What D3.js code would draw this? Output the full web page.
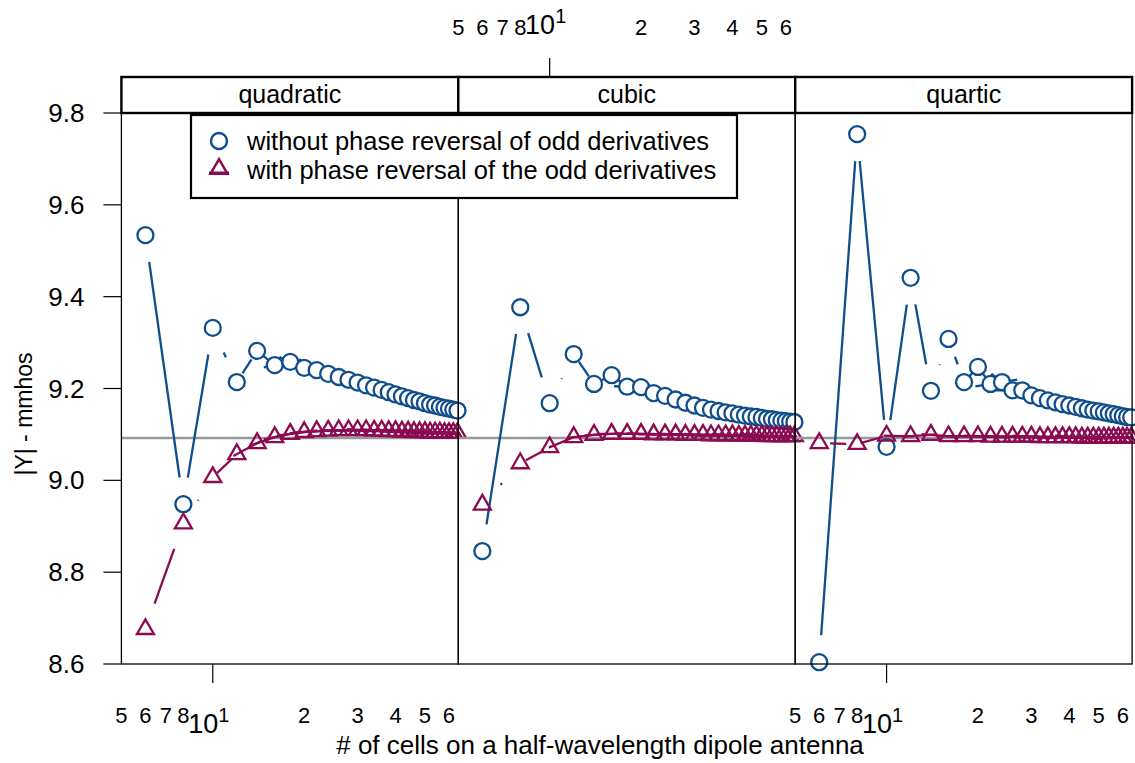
<!DOCTYPE html>
<html>
<head>
<meta charset="utf-8">
<script src="https://cdn.jsdelivr.net/npm/d3@7/dist/d3.min.js"></script>
<style>
  body { margin: 0; background: #fff; }
  text { font-family: "Liberation Sans", Arial, Helvetica, sans-serif; fill: #000; }
</style>
</head>
<body>
<div id="chart"></div>
<script>
// number of cells (x), shared by every panel
const cells = [6, 8, 10, 12, 14, 16, 18, 20, 22, 24, 26, 28, 30, 32, 34,
               36, 38, 40, 42, 44, 46, 48, 50, 52, 54, 56, 58, 60, 62, 64];

const panelNames = ['quadratic', 'cubic', 'quartic'];
const seriesNames = ['without phase reversal of odd derivatives',
                     'with phase reversal of the odd derivatives'];

// |Y| without phase reversal
const quadraticWithout = [9.534, 8.948, 9.332, 9.214, 9.282, 9.251, 9.258, 9.245, 9.240, 9.232,
                          9.225, 9.219, 9.213, 9.207, 9.202, 9.197, 9.192, 9.187, 9.183, 9.179,
                          9.175, 9.172, 9.168, 9.165, 9.163, 9.160, 9.158, 9.156, 9.154, 9.152];
const cubicWithout     = [8.846, 9.377, 9.168, 9.275, 9.210, 9.229, 9.204, 9.203, 9.190, 9.184,
                          9.176, 9.169, 9.163, 9.158, 9.154, 9.151, 9.148, 9.146, 9.143, 9.141,
                          9.139, 9.138, 9.136, 9.134, 9.133, 9.131, 9.130, 9.129, 9.128, 9.127];
const quarticWithout   = [8.604, 9.754, 9.073, 9.441, 9.195, 9.308, 9.214, 9.247, 9.210, 9.214,
                          9.196, 9.196, 9.185, 9.179, 9.174, 9.170, 9.166, 9.163, 9.160, 9.157,
                          9.154, 9.152, 9.150, 9.148, 9.146, 9.144, 9.142, 9.140, 9.138, 9.137];

// |Y| with phase reversal
const quadraticWith = [8.676, 8.906, 9.007, 9.057, 9.081, 9.094, 9.101, 9.105, 9.107, 9.108,
                       9.109, 9.109, 9.109, 9.109, 9.108, 9.108, 9.107, 9.107, 9.106, 9.106,
                       9.105, 9.105, 9.105, 9.104, 9.104, 9.104, 9.103, 9.103, 9.103, 9.103];
const cubicWith     = [8.947, 9.037, 9.072, 9.094, 9.099, 9.101, 9.101, 9.101, 9.100, 9.100,
                       9.100, 9.099, 9.099, 9.099, 9.098, 9.098, 9.098, 9.098, 9.097, 9.097,
                       9.097, 9.097, 9.097, 9.096, 9.096, 9.096, 9.096, 9.096, 9.096, 9.096];
const quarticWith   = [9.081, 9.079, 9.097, 9.096, 9.099, 9.096, 9.096, 9.096, 9.095, 9.095,
                       9.095, 9.095, 9.095, 9.094, 9.094, 9.094, 9.094, 9.094, 9.094, 9.093,
                       9.093, 9.093, 9.093, 9.093, 9.093, 9.093, 9.093, 9.093, 9.093, 9.093];

const refLevel = 9.092;
const yTicks = [8.6, 8.8, 9.0, 9.2, 9.4, 9.6, 9.8];
const xMinorTicks = [5, 6, 7, 8, 20, 30, 40, 50, 60];
const xMajorTick = 10;

const panelSeries = [
  [quadraticWithout, quadraticWith],
  [cubicWithout, cubicWith],
  [quarticWithout, quarticWith]
];

const colors = ['#104E8B', '#8B0A50'];

const W = 1135, H = 763;
const panelLeft = 121.4, panelW = 336.9;
const panelTop = 113, panelBottom = 664, stripH = 36;
const gap = 27;

const svg = d3.select('#chart').append('svg')
    .attr('width', W).attr('height', H);

const y = d3.scaleLinear().domain([8.6, 9.8]).range([panelBottom, panelTop]);

const triPath = 'M0,-9.8L8.5,4.9L-8.5,4.9Z';

// y axis
const yAxis = svg.append('g');
yTicks.forEach(t => {
    yAxis.append('line')
        .attr('x1', panelLeft - 18).attr('x2', panelLeft)
        .attr('y1', y(t)).attr('y2', y(t))
        .attr('stroke', '#000').attr('stroke-width', 1.2);
    yAxis.append('text')
        .attr('x', panelLeft - 37).attr('y', y(t) + 9)
        .attr('text-anchor', 'end')
        .style('font-size', '26px')
        .text(t.toFixed(1));
});

svg.append('text')
    .attr('transform', 'translate(32,414) rotate(-90)')
    .attr('text-anchor', 'middle')
    .style('font-size', '23px')
    .text('|Y| - mmhos');

svg.append('text')
    .attr('x', 600).attr('y', 754)
    .attr('text-anchor', 'middle')
    .style('font-size', '26px')
    .text('# of cells on a half-wavelength dipole antenna');

panelNames.forEach((name, p) => {
    const x0 = panelLeft + p * panelW;
    const x = d3.scaleLog().domain([5, 64.4]).range([x0, x0 + panelW]);
    const g = svg.append('g');

    // clip for lines
    svg.append('clipPath').attr('id', 'clip' + p)
        .append('rect')
        .attr('x', x0).attr('y', panelTop)
        .attr('width', panelW).attr('height', panelBottom - panelTop);

    // reference line
    g.append('line')
        .attr('x1', x0).attr('x2', x0 + panelW)
        .attr('y1', y(refLevel)).attr('y2', y(refLevel))
        .attr('stroke', '#999').attr('stroke-width', 2.5);

    panelSeries[p].forEach((vals, s) => {
        const pts = vals.map((v, i) => ({px: x(cells[i]), py: y(v)}));
        // segments pulled back by a fixed gap at both ends
        const segs = d3.pairs(pts).map(([a, b]) => {
            const dx = b.px - a.px, dy = b.py - a.py;
            const d = Math.hypot(dx, dy);
            const ux = dx / d, uy = dy / d;
            return [a.px + ux * gap, a.py + uy * gap, b.px - ux * gap, b.py - uy * gap];
        });
        g.append('g').attr('clip-path', `url(#clip${p})`)
            .selectAll('line').data(segs).join('line')
            .attr('x1', d => d[0]).attr('y1', d => d[1])
            .attr('x2', d => d[2]).attr('y2', d => d[3])
            .attr('stroke', colors[s]).attr('stroke-width', 2.3);

        if (s === 0) {
            g.append('g').selectAll('circle').data(pts).join('circle')
                .attr('cx', d => d.px).attr('cy', d => d.py).attr('r', 8)
                .attr('fill', '#fff').attr('stroke', colors[s]).attr('stroke-width', 2.3);
        } else {
            g.append('g').selectAll('path').data(pts).join('path')
                .attr('d', triPath)
                .attr('transform', d => `translate(${d.px},${d.py})`)
                .attr('fill', 'none').attr('stroke', colors[s]).attr('stroke-width', 2.3);
        }
    });

    // panel border
    g.append('rect')
        .attr('x', x0).attr('y', panelTop)
        .attr('width', panelW).attr('height', panelBottom - panelTop)
        .attr('fill', 'none').attr('stroke', '#000').attr('stroke-width', 1.3);

    // strip
    g.append('rect')
        .attr('x', x0).attr('y', panelTop - stripH)
        .attr('width', panelW).attr('height', stripH)
        .attr('fill', '#fff').attr('stroke', '#000').attr('stroke-width', 2.4);
    g.append('text')
        .attr('x', x0 + panelW / 2).attr('y', panelTop - 10)
        .attr('text-anchor', 'middle')
        .style('font-size', '25px')
        .text(name);

    // log axis: bottom on outer panels, top on the middle one
    const top = p === 1;
    const ax = svg.append('g');
    const tickY0 = top ? panelTop - stripH : panelBottom;
    const dir = top ? -1 : 1;
    ax.append('line')
        .attr('x1', x(xMajorTick)).attr('x2', x(xMajorTick))
        .attr('y1', tickY0).attr('y2', tickY0 + dir * 19)
        .attr('stroke', '#000').attr('stroke-width', 1.2);
    const minorBase = top ? 35 : 723;
    ax.selectAll('text.minor').data(xMinorTicks).join('text')
        .attr('class', 'minor')
        .attr('x', d => x(d)).attr('y', minorBase)
        .attr('text-anchor', 'middle')
        .style('font-size', '22px')
        .text(d => d >= 10 ? d / 10 : d);
    const major = ax.append('text')
        .attr('x', x(xMajorTick) - 4).attr('y', top ? 34 : 733)
        .attr('text-anchor', 'middle')
        .style('font-size', '27px');
    major.append('tspan').text('10');
    major.append('tspan').attr('dy', -11).style('font-size', '20px').text('1');
});

// legend
const lg = svg.append('g');
lg.append('rect')
    .attr('x', 191).attr('y', 115).attr('width', 546).attr('height', 83)
    .attr('fill', '#fff').attr('stroke', '#000').attr('stroke-width', 2.2);
lg.append('circle')
    .attr('cx', 219).attr('cy', 141).attr('r', 8)
    .attr('fill', '#fff').attr('stroke', colors[0]).attr('stroke-width', 2.4);
lg.append('line')
    .attr('x1', 209).attr('x2', 229).attr('y1', 173).attr('y2', 173)
    .attr('stroke', colors[1]).attr('stroke-width', 3);
lg.append('path')
    .attr('d', triPath)
    .attr('transform', 'translate(219,169)')
    .attr('fill', 'none').attr('stroke', colors[1]).attr('stroke-width', 2.4);
seriesNames.forEach((n, i) => {
    lg.append('text')
        .attr('x', 247).attr('y', 150 + i * 29)
        .style('font-size', '25.5px')
        .text(n);
});
</script>
</body>
</html>
